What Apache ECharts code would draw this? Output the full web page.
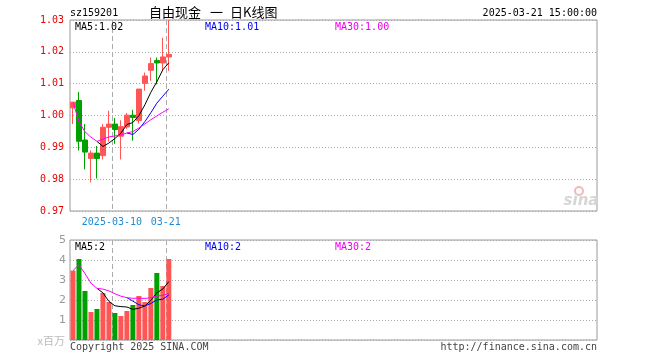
<!DOCTYPE html>
<html><head><meta charset="utf-8">
<script src="https://cdn.jsdelivr.net/npm/echarts@6/dist/echarts.min.js"></script>
<style>html,body{margin:0;padding:0;background:#fff}#c{width:660px;height:360px}</style>
</head><body><div id="c"></div>
<script>
// ---- data ----
const dates = ['2025-02-27','2025-02-28','2025-03-03','2025-03-04','2025-03-05','2025-03-06','2025-03-07',
  '2025-03-10','2025-03-11','2025-03-12','2025-03-13','2025-03-14','2025-03-17','2025-03-18','2025-03-19','2025-03-20','2025-03-21'];
const opens  = [1.0024,1.0047,0.9923,0.9865,0.9882,0.9874,0.9963,0.9973,0.9935,0.9964,1.0001,0.9984,1.0101,1.0142,1.0173,1.0165,1.0184];
const closes = [1.0042,0.9919,0.9885,0.9882,0.9865,0.9963,0.9973,0.9956,0.9965,1.0001,0.9994,1.0083,1.0124,1.0163,1.0165,1.0184,1.0192];
const lows   = [0.9973,0.9890,0.9831,0.9790,0.9802,0.9862,0.9918,0.9911,0.9862,0.9958,0.9921,0.9975,1.0078,1.0109,1.0098,1.0142,1.0140];
const highs  = [1.0042,1.0074,0.9973,0.9890,0.9904,0.9973,1.0015,0.9992,0.9985,1.0008,1.0018,1.0083,1.0135,1.0182,1.0182,1.0244,1.0300];
const volumes = [3.47,4.05,2.45,1.40,1.55,2.35,1.90,1.35,1.20,1.45,1.75,2.20,1.90,2.60,3.35,2.70,4.05]; // x百万
const totalSlots = 88;
const xTickLabels = {7:'2025-03-10', 16:'03-21'};   // boundary index -> label
const priceTicks = [0.97, 1.03, 0.01];               // min, max, step
const volTicks = [0, 5, 1];
const priceLegend = ['MA5:1.02','MA10:1.01','MA30:1.00'];
const volLegend = ['MA5:2','MA10:2','MA30:2'];
const titleParts = ['自由现金','一','日K线图'];

// ---- derived ----
function ma(arr, n){ return arr.map((_,i)=> i < n-1 ? null : arr.slice(i-n+1,i+1).reduce((a,b)=>a+b,0)/n); }
function cumAvg(arr, n){ return arr.map((_,i)=>{ const s=arr.slice(Math.max(0,i-n+1),i+1); return s.reduce((a,b)=>a+b,0)/s.length; }); }
const slots = Array.from({length: totalSlots}, (_,i)=> dates[i] || ('s'+i));
const bounds = Array.from({length: totalSlots+1}, (_,i)=> xTickLabels[i] || '');
const kData = dates.map((_,i)=>[opens[i],closes[i],lows[i],highs[i]]);
const UP='#ff5555', DOWN='#00a000';
const volData = volumes.map((v,i)=>({value:v, itemStyle:{color: closes[i]>=opens[i]?UP:DOWN}}));
const MONO='"DejaVu Sans Mono", "Liberation Mono", monospace';
const CJK='"Noto Sans CJK SC"';

const chart = echarts.init(document.getElementById('c'), null, {renderer:'canvas'});
const grayDot = {color:'#aaa', type:[1,2], width:1};
const dash = {color:'#aaa', type:[5,3], width:1};
const line = (name, data, color, xi, yi) => ({type:'line', name, data, xAxisIndex:xi, yAxisIndex:yi,
  symbol:'none', showSymbol:false, lineStyle:{color, width:1}, itemStyle:{color}, silent:true, z:5});

chart.setOption({
  animation:false,
  backgroundColor:'#fff',
  grid:[
    {left:70, right:63, top:20, height:191, show:true, borderColor:'#999', borderWidth:1, backgroundColor:'transparent'},
    {left:70, right:63, top:240, height:100, show:true, borderColor:'#999', borderWidth:1, backgroundColor:'transparent'}
  ],
  xAxis:[
    {type:'category', gridIndex:0, position:'bottom', data:slots, boundaryGap:true, axisLine:{show:false}, axisTick:{show:false}, axisLabel:{show:false}, splitLine:{show:false}},
    {type:'category', gridIndex:1, position:'bottom', data:slots, boundaryGap:true, axisLine:{show:false}, axisTick:{show:false}, axisLabel:{show:false}, splitLine:{show:false}},
    {type:'category', gridIndex:0, position:'bottom', offset:0, data:bounds, boundaryGap:false, axisLine:{show:false}, axisTick:{show:false},
      axisLabel:{show:true, interval:0, color:'#1f8ad8', fontFamily:MONO, fontSize:10, margin:6},
      splitLine:{show:true, interval:(i)=> !!xTickLabels[i], lineStyle:dash}},
    {type:'category', gridIndex:1, position:'bottom', data:bounds, boundaryGap:false, axisLine:{show:false}, axisTick:{show:false}, axisLabel:{show:false},
      splitLine:{show:true, interval:(i)=> !!xTickLabels[i], lineStyle:dash}}
  ],
  yAxis:[
    {type:'value', gridIndex:0, min:priceTicks[0], max:priceTicks[1], interval:priceTicks[2],
      axisLine:{show:false}, axisTick:{show:false},
      axisLabel:{color:'#e80000', fontFamily:MONO, fontSize:10, margin:6, formatter:(v)=>v.toFixed(2)},
      splitLine:{show:true, lineStyle:grayDot}},
    {type:'value', gridIndex:1, min:volTicks[0], max:volTicks[1], interval:volTicks[2],
      axisLine:{show:false}, axisTick:{show:false},
      axisLabel:{color:'#999', fontFamily:'"DejaVu Sans", sans-serif', fontSize:11, margin:4, formatter:(v)=> v===0?'':String(v)},
      splitLine:{show:true, lineStyle:grayDot}}
  ],
  series:[
    {type:'candlestick', xAxisIndex:0, yAxisIndex:0, data:kData, barWidth:5, silent:true,
      itemStyle:{color:UP, color0:DOWN, borderColor:UP, borderColor0:DOWN, borderWidth:1}},
    line('MA5', ma(closes,5), '#000', 0, 0),
    line('MA10', ma(closes,10), '#0000ff', 0, 0),
    line('MA30', cumAvg(closes,30), '#ff00ff', 0, 0),
    {type:'bar', xAxisIndex:1, yAxisIndex:1, data:volData, barWidth:5, silent:true},
    line('VMA5', ma(volumes,5), '#000', 1, 1),
    line('VMA10', ma(volumes,10), '#0000ff', 1, 1),
    line('VMA30', cumAvg(volumes,30), '#ff00ff', 1, 1)
  ],
  graphic:[
    {type:'text', x:70, y:13, style:{text:'sz159201', font:'10px '+MONO, fill:'#000', textVerticalAlign:'middle'}},
    {type:'text', x:149, y:12, style:{text:titleParts[0], font:'13px '+CJK, fill:'#000', textVerticalAlign:'middle'}},
    {type:'text', x:210, y:12, style:{text:titleParts[1], font:'13px '+CJK, fill:'#000', textVerticalAlign:'middle'}},
    {type:'text', x:230, y:12, style:{text:titleParts[2], font:'13px '+CJK, fill:'#000', textVerticalAlign:'middle'}},
    {type:'text', x:597, y:13, style:{text:'2025-03-21 15:00:00', font:'10px '+MONO, fill:'#000', textAlign:'right', textVerticalAlign:'middle'}},
    {type:'text', x:75, y:27, z:10, style:{text:priceLegend[0], font:'10px '+MONO, fill:'#000', textVerticalAlign:'middle'}},
    {type:'text', x:205, y:27, z:10, style:{text:priceLegend[1], font:'10px '+MONO, fill:'#0000ee', textVerticalAlign:'middle'}},
    {type:'text', x:335, y:27, z:10, style:{text:priceLegend[2], font:'10px '+MONO, fill:'#ee00ee', textVerticalAlign:'middle'}},
    {type:'text', x:75, y:247, z:10, style:{text:volLegend[0], font:'10px '+MONO, fill:'#000', textVerticalAlign:'middle'}},
    {type:'text', x:205, y:247, z:10, style:{text:volLegend[1], font:'10px '+MONO, fill:'#0000ee', textVerticalAlign:'middle'}},
    {type:'text', x:335, y:247, z:10, style:{text:volLegend[2], font:'10px '+MONO, fill:'#ee00ee', textVerticalAlign:'middle'}},
    {type:'text', x:65, y:341, style:{text:'x百万', font:'11px '+CJK, fill:'#bbb', textAlign:'right', textVerticalAlign:'middle'}},
    {type:'text', x:70, y:347, style:{text:'Copyright 2025 SINA.COM', font:'10px '+MONO, fill:'#444', textVerticalAlign:'middle'}},
    {type:'text', x:597, y:347, style:{text:'http://finance.sina.com.cn', font:'10px '+MONO, fill:'#444', textAlign:'right', textVerticalAlign:'middle'}},
    {type:'circle', shape:{cx:579, cy:191, r:4}, style:{fill:'none', stroke:'#f3b8b8', lineWidth:2}},
    {type:'text', x:581, y:201, style:{text:'sina', font:'italic bold 15px "DejaVu Sans"', fill:'#d6d6d6', textAlign:'center', textVerticalAlign:'middle'}}
  ]
});
</script></body></html>
